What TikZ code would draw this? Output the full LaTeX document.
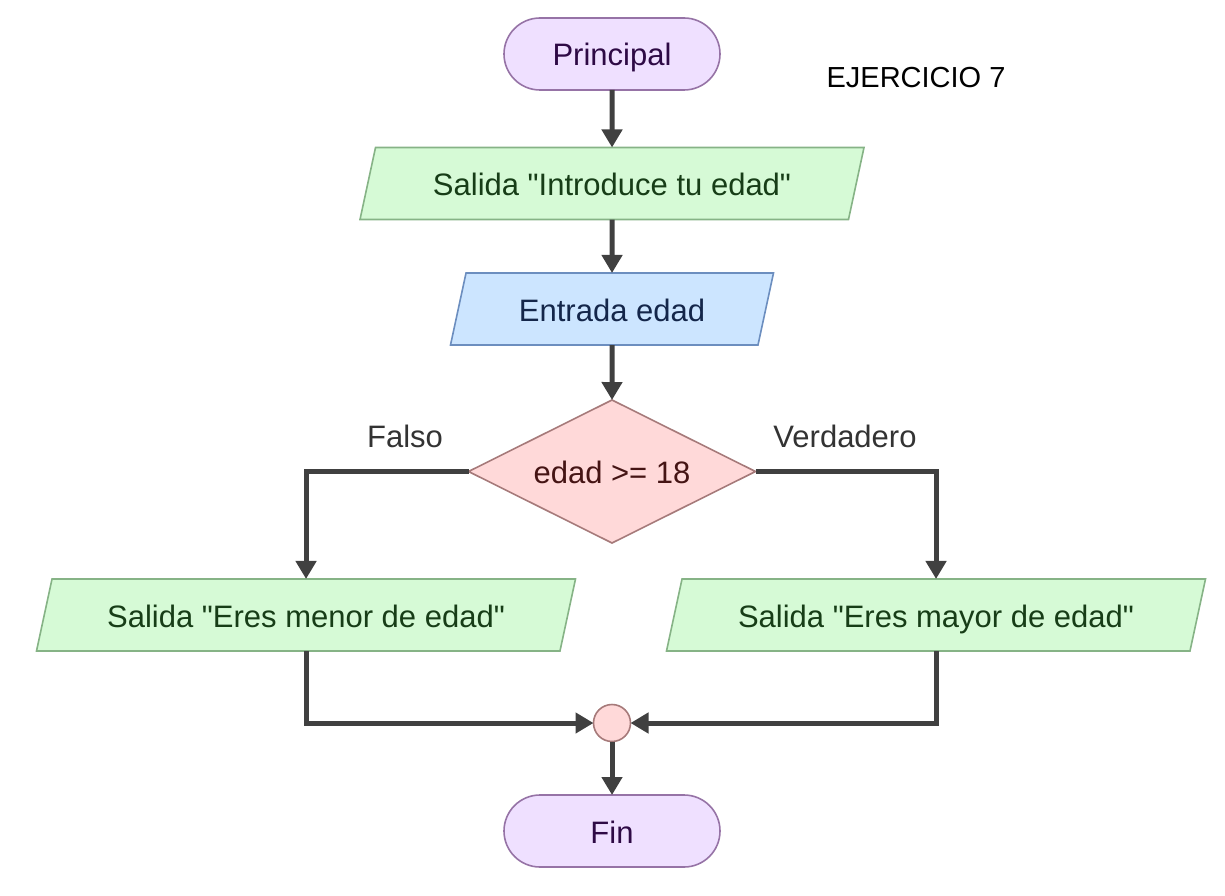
\documentclass[tikz,border=0pt]{standalone}
\usepackage{fontspec}
\setmainfont{Liberation Sans}[Ligatures=TeXOff]
\usetikzlibrary{shapes.geometric,shapes.misc,arrows.meta}
\definecolor{termfill}{HTML}{EFE0FF}
\definecolor{termdraw}{HTML}{9673A6}
\definecolor{termtext}{HTML}{2E0A45}
\definecolor{outfill}{HTML}{D6FAD6}
\definecolor{outdraw}{HTML}{86B386}
\definecolor{outtext}{HTML}{173D17}
\definecolor{infill}{HTML}{CCE5FF}
\definecolor{indraw}{HTML}{6C8EBF}
\definecolor{intext}{HTML}{14264A}
\definecolor{decfill}{HTML}{FFD9D9}
\definecolor{decdraw}{HTML}{A67A7A}
\definecolor{dectext}{HTML}{451414}
\definecolor{linecol}{HTML}{404040}
\tikzset{
  txt/.style={font=\fontsize{31}{36}\selectfont, text height=26pt, text depth=2pt},
  base/.style={txt, inner sep=0pt, outer sep=0pt, line width=1.6pt},
  term/.style={base, rounded rectangle, rounded rectangle arc length=180, minimum width=216pt, minimum height=72pt, fill=termfill, draw=termdraw, text=termtext},
  para/.style={base, trapezium, trapezium left angle=61, trapezium right angle=119, trapezium stretches body=true, minimum height=72pt},
  outbox/.style={para, fill=outfill, draw=outdraw, text=outtext},
  inbox/.style={para, fill=infill, draw=indraw, text=intext},
  dec/.style={base, diamond, aspect=2, minimum width=287pt, minimum height=143pt, fill=decfill, draw=decdraw},
  dectxt/.style={txt, text=dectext, inner sep=0pt},
  conn/.style={base, circle, minimum size=37pt, fill=decfill, draw=decdraw},
  lbl/.style={txt, text=black!80, inner sep=0pt},
  arr/.style={line width=5pt, draw=linecol, -{Triangle[width=20pt,length=18pt]}}
}
\begin{document}
\begin{tikzpicture}[x=1pt,y=-1pt]
\useasboundingbox (0,0) rectangle (1225,896);
\node[term] (start) at (612,54) {Principal};
\node[outbox, minimum width=504pt] (out1) at (612,183.5) {Salida "Introduce tu edad"};
\node[inbox, minimum width=323pt] (in1) at (612,309) {Entrada edad};
\node[dec, label={[dectxt]center:edad >= 18}] (cond) at (612,471.5) {};
\node[outbox, minimum width=539pt] (outL) at (306,615) {Salida "Eres menor de edad"};
\node[outbox, minimum width=539pt] (outR) at (936,615) {Salida "Eres mayor de edad"};
\node[conn] (join) at (612,723) {};
\node[term] (end) at (612,831) {Fin};
\node[lbl] (lf) at (405,435) {Falso};
\node[lbl] (lv) at (845,435) {Verdadero};
\node[font=\fontsize{29}{34}\selectfont, text height=22pt, text depth=4pt, text=black, inner sep=0pt] (title) at (916,79) {EJERCICIO 7};
\draw[arr] (start.south) -- (out1.north);
\draw[arr] (out1.south) -- (in1.north);
\draw[arr] (in1.south) -- (cond.north);
\draw[arr] (cond.west) -| (outL.north);
\draw[arr] (cond.east) -| (outR.north);
\draw[arr] (outL.south) |- (join.west);
\draw[arr] (outR.south) |- (join.east);
\draw[arr] (join.south) -- (end.north);
\end{tikzpicture}
\end{document}
